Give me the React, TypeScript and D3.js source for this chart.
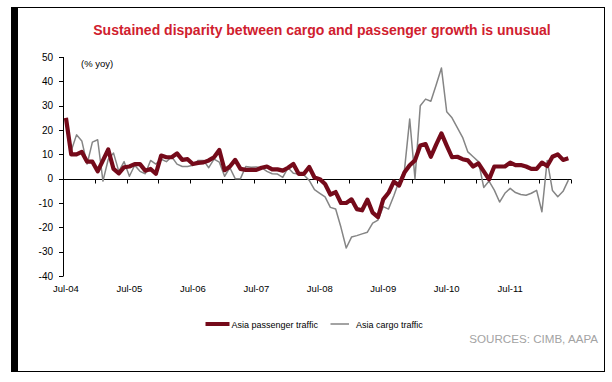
import React from "react";
import * as d3 from "d3";

// Monthly data, Jul-04 .. Jun-12 (96 months), % yoy
const passenger: number[] = [
  25, 10, 10, 11, 7, 7, 3, 7.5, 12, 4, 2.2, 4.7,
  5, 6, 6, 3.3, 4, 2, 9.5, 8.8, 8.8, 10.4, 7.7, 8,
  6, 6.5, 6.7, 7.5, 8.8, 11.8, 3.5, 5, 7.7, 4, 3.6, 3.6,
  3.6, 4.5, 5, 3.8, 3.8, 3.3, 4.5, 6, 2, 2, 4.8, 0.5,
  -0.2, -2.2, -6.5, -5.5, -10, -10, -8.5, -12.5, -13, -8.6, -14, -15.8,
  -8.5, -5.8, -1.2, -2.8, 2.5, 5.5, 7.5, 13.6, 14.2, 9, 14, 18.6,
  13.6, 8.8, 9, 8, 7.5, 5, 6.3, 3, -0.3, 5, 5, 5,
  6.6, 5.6, 5.6, 5, 4, 4, 6.6, 5.2, 9, 10, 7.7, 8.4,
];
const cargo: number[] = [
  25, 11.5, 18, 15.5, 6, 15, 16, -1, 8, 10.5, 3, 7,
  1, 5.5, 3, 2, 7.5, 6, 8, 7, 9, 6, 5, 5,
  5.5, 7.5, 7.5, 4.5, 8, 6.8, 1, 4.5, 0, 0, 5, 4.7,
  4.8, 4.5, 3, 2, 1.9, 0.5, 4.5, 2.2, 1.9, 1.5, -0.7, -4.5,
  -6, -7.5, -11.8, -12.5, -20, -28.5, -24, -23.4, -22.7, -22, -18.3, -17,
  -11.5, -12.5, -7, -1, 3.3, 24.5, 0, 30, 32.7, 31.8, 38.5, 45.5,
  27.5, 25, 21, 17, 11, 9, 7, -3.6, -1, -4.7, -9.6, -6,
  -4, -5.7, -6.5, -6.8, -6, -4.8, -13.6, 7.5, -4.9, -7.4, -5.2, -0.6,
];
const xLabels: string[] = ["Jul-04", "Jul-05", "Jul-06", "Jul-07", "Jul-08", "Jul-09", "Jul-10", "Jul-11"];
const yTicks: number[] = [50, 40, 30, 20, 10, 0, -10, -20, -30, -40];
const seriesNames: string[] = ["Asia passenger traffic", "Asia cargo traffic"];

const W = 612;
const H = 382;
const FONT = "'Liberation Sans', Arial, sans-serif";

export default function App() {
  const nCat = 96;
  const x = d3.scaleLinear().domain([0, nCat]).range([63.3, 571]);
  const y = d3.scaleLinear().domain([-40, 50]).range([276, 57]);
  const line = d3
    .line<number>()
    .x((_, i) => x(i + 0.5))
    .y((d) => y(d));

  const tickIdx = d3.range(0, nCat + 1, 6);

  return (
    <svg
      width={W}
      height={H}
      style={{ position: "absolute", left: 0, top: 0, background: "#fff" }}
      fontFamily={FONT}
    >
      {/* frame */}
      <rect x={11} y={7} width={7} height={365} fill="#000" />
      <line x1={11} y1={7.5} x2={605} y2={7.5} stroke="#000" strokeWidth={1} />
      <line x1={604.5} y1={7} x2={604.5} y2={372} stroke="#000" strokeWidth={1} />
      <line x1={11} y1={371.5} x2={605} y2={371.5} stroke="#000" strokeWidth={1} />

      {/* title */}
      <text x={322} y={35} textAnchor="middle" fontSize={14} fontWeight="bold" fill="#d0202e">
        Sustained disparity between cargo and passenger growth is unusual
      </text>

      {/* y axis */}
      <line x1={63.5} y1={y(50)} x2={63.5} y2={y(-40)} stroke="#000" strokeWidth={1} />
      {yTicks.map((t) => (
        <g key={t}>
          <line x1={59} x2={63.5} y1={Math.round(y(t)) + 0.5} y2={Math.round(y(t)) + 0.5} stroke="#000" />
          <text x={53} y={y(t) + 3.5} textAnchor="end" fontSize={10} fill="#000">
            {t}
          </text>
        </g>
      ))}
      <text x={81} y={67} fontSize={9.5} fill="#000">
        (% yoy)
      </text>

      {/* x axis at zero */}
      <line x1={63.3} x2={571} y1={Math.round(y(0)) + 0.5} y2={Math.round(y(0)) + 0.5} stroke="#000" />
      {tickIdx.map((k) => (
        <line
          key={k}
          x1={Math.round(x(k)) + 0.5}
          x2={Math.round(x(k)) + 0.5}
          y1={Math.round(y(0)) + 0.5}
          y2={Math.round(y(0)) + 4.5}
          stroke="#000"
        />
      ))}
      {xLabels.map((lab, i) => (
        <text key={lab} x={x(i * 12 + 0.5)} y={292} textAnchor="middle" fontSize={9.5} fill="#000">
          {lab}
        </text>
      ))}

      {/* series */}
      <path d={line(cargo) || ""} fill="none" stroke="#858585" strokeWidth={1.5} strokeLinejoin="round" />
      <path d={line(passenger) || ""} fill="none" stroke="#750a1a" strokeWidth={4.2} strokeLinejoin="round" />

      {/* legend */}
      <line x1={205.5} x2={229.5} y1={324} y2={324} stroke="#750a1a" strokeWidth={4} />
      <text x={231.5} y={327.5} fontSize={9} fill="#000">
        {seriesNames[0]}
      </text>
      <line x1={330.5} x2={349} y1={324} y2={324} stroke="#858585" strokeWidth={1.5} />
      <text x={356} y={327.5} fontSize={9} fill="#000">
        {seriesNames[1]}
      </text>

      {/* sources */}
      <text x={598} y={343} textAnchor="end" fontSize={11.6} fill="#a3a3a3">
        SOURCES: CIMB, AAPA
      </text>
    </svg>
  );
}
